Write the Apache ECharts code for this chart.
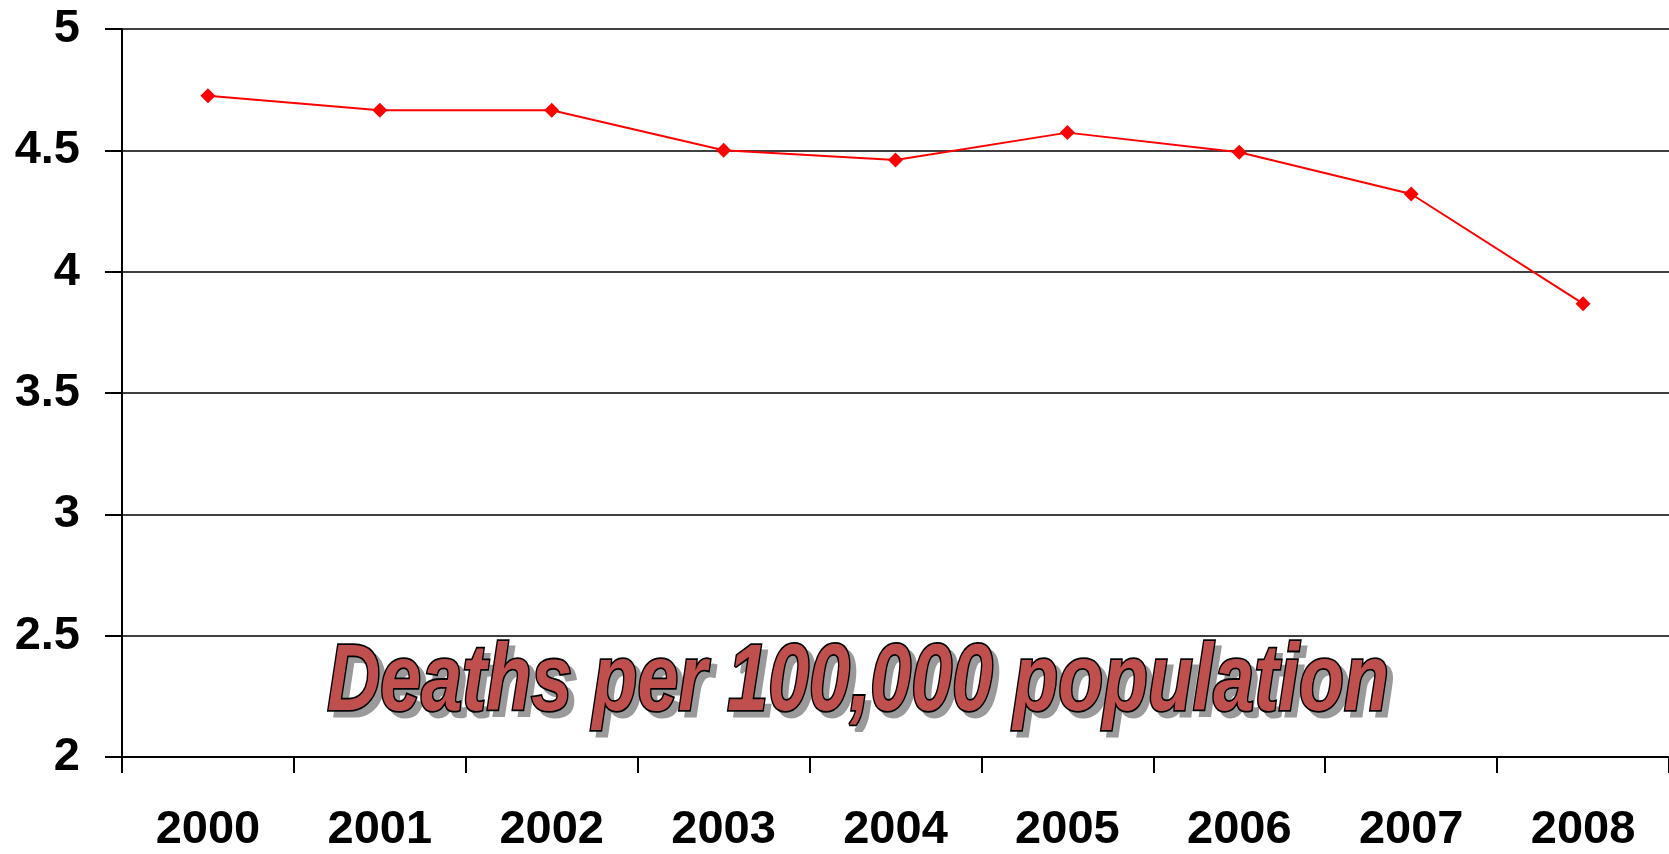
<!DOCTYPE html>
<html>
<head>
<meta charset="utf-8">
<script src="https://cdn.jsdelivr.net/npm/echarts@6/dist/echarts.min.js"></script>
<style>
  html, body { margin: 0; padding: 0; background: #fff; }
  #chart { width: 1669px; height: 854px; }
</style>
</head>
<body>
<div id="chart"></div>
<script>
// data
var years = ['2000', '2001', '2002', '2003', '2004', '2005', '2006', '2007', '2008'];
var deathRate = [4.725, 4.665, 4.665, 4.50, 4.46, 4.573, 4.492, 4.32, 3.868];
var titleText = 'Deaths per 100,000 population';

var chart = echarts.init(document.getElementById('chart'));

var option = {
  animation: false,
  backgroundColor: '#fff',
  grid: {
    left: 122,
    right: 0,
    top: 29,
    bottom: 96
  },
  xAxis: {
    type: 'category',
    data: years,
    boundaryGap: true,
    axisLine: { lineStyle: { color: '#000', width: 2 } },
    axisTick: { show: true, length: 16, lineStyle: { color: '#000', width: 2 } },
    axisLabel: {
      margin: 50,
      color: '#000',
      fontSize: 47,
      fontWeight: 'bold',
      fontFamily: 'Liberation Sans, Arial, sans-serif'
    },
    splitLine: { show: false }
  },
  yAxis: {
    type: 'value',
    min: 2,
    max: 5,
    interval: 0.5,
    axisLine: { show: true, lineStyle: { color: '#000', width: 2 } },
    axisTick: { show: true, length: 17, lineStyle: { color: '#000', width: 2 } },
    axisLabel: {
      margin: 42,
      color: '#000',
      fontSize: 47,
      fontWeight: 'bold',
      fontFamily: 'Liberation Sans, Arial, sans-serif'
    },
    splitLine: { show: true, lineStyle: { color: '#000', width: 1.5 } }
  },
  series: [
    {
      type: 'line',
      data: deathRate,
      symbol: 'diamond',
      symbolSize: 15,
      lineStyle: { color: '#ff0000', width: 2 },
      itemStyle: { color: '#ff0000' },
      z: 5
    }
  ],
  graphic: [
    {
      // gray drop shadow copy of the heading
      type: 'text',
      x: 864,
      y: 690,
      scaleX: 0.79,
      scaleY: 1.02,
      z: 9,
      style: {
        text: titleText,
        x: 0,
        y: 0,
        align: 'center',
        verticalAlign: 'middle',
        fill: '#9a9a9a',
        stroke: '#9a9a9a',
        lineWidth: 3,
        font: 'italic bold 93px "Liberation Sans", Arial, sans-serif'
      }
    },
    {
      type: 'text',
      x: 858,
      y: 684,
      scaleX: 0.79,
      scaleY: 1.02,
      z: 10,
      style: {
        text: titleText,
        x: 0,
        y: 0,
        align: 'center',
        verticalAlign: 'middle',
        fill: '#c0504d',
        stroke: '#000',
        lineWidth: 3.5,
        font: 'italic bold 93px "Liberation Sans", Arial, sans-serif'
      }
    }
  ]
};

chart.setOption(option);
</script>
</body>
</html>
